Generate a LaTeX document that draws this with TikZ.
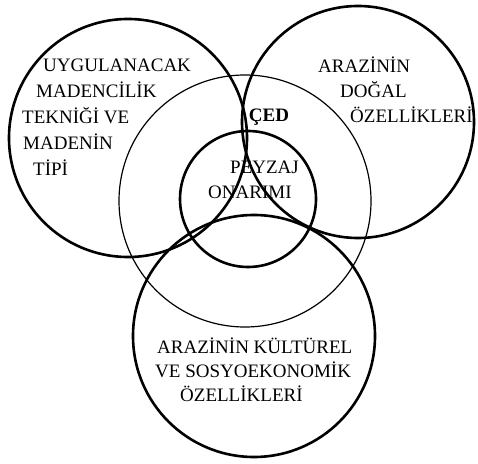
\documentclass[tikz,border=0pt]{standalone}
\usepackage{fontspec}
\setmainfont{Liberation Serif}
\usetikzlibrary{positioning}

\begin{document}
\begin{tikzpicture}[
    x=1pt, y=1pt,
    area/.style={draw=black, line width=2.6pt},
    scope/.style={draw=black, line width=1.2pt},
    label/.style={inner sep=0pt, align=left, anchor=base west, font=\fontsize{19}{25}\selectfont}
]
\useasboundingbox (0,0) rectangle (478,463);

% Circles
\draw [area] (128,325) circle (119);   % madencilik
\draw [area] (358,341) circle (116);   % dogal
\draw [scope] (245,262) circle (126);  % CED
\draw [area] (248,264) circle (68);    % peyzaj
\draw [area] (254,127) circle (121);   % kulturel

% Labels (anchored at the last line)
\node (mining) [label, font=\fontsize{19}{26.2}\selectfont] at (22,287)
    {\hspace*{21pt}UYGULANACAK\\\hspace*{14pt}MADENCİLİK\\TEKNİĞİ VE\\\hspace*{1pt}MADENİN\\\hspace*{11pt}TİPİ};
\node (nature) [label] at (318,340)
    {ARAZİNİN\\\hspace*{22pt}DOĞAL\\\hspace*{32pt}ÖZELLİKLERİ};
\node (culture) [label, font=\fontsize{19}{24}\selectfont] at (155,62)
    {\hspace*{2pt}ARAZİNİN KÜLTÜREL\\VE SOSYOEKONOMİK\\\hspace*{25pt}ÖZELLİKLERİ};
\node (ced) [inner sep=0pt, font=\fontsize{19}{25}\selectfont\bfseries] at (269,346) {ÇED};
\node (repair) [label] at (208,264)
    {\hspace*{22pt}PEYZAJ\\ONARIMI};

\end{tikzpicture}
\end{document}
